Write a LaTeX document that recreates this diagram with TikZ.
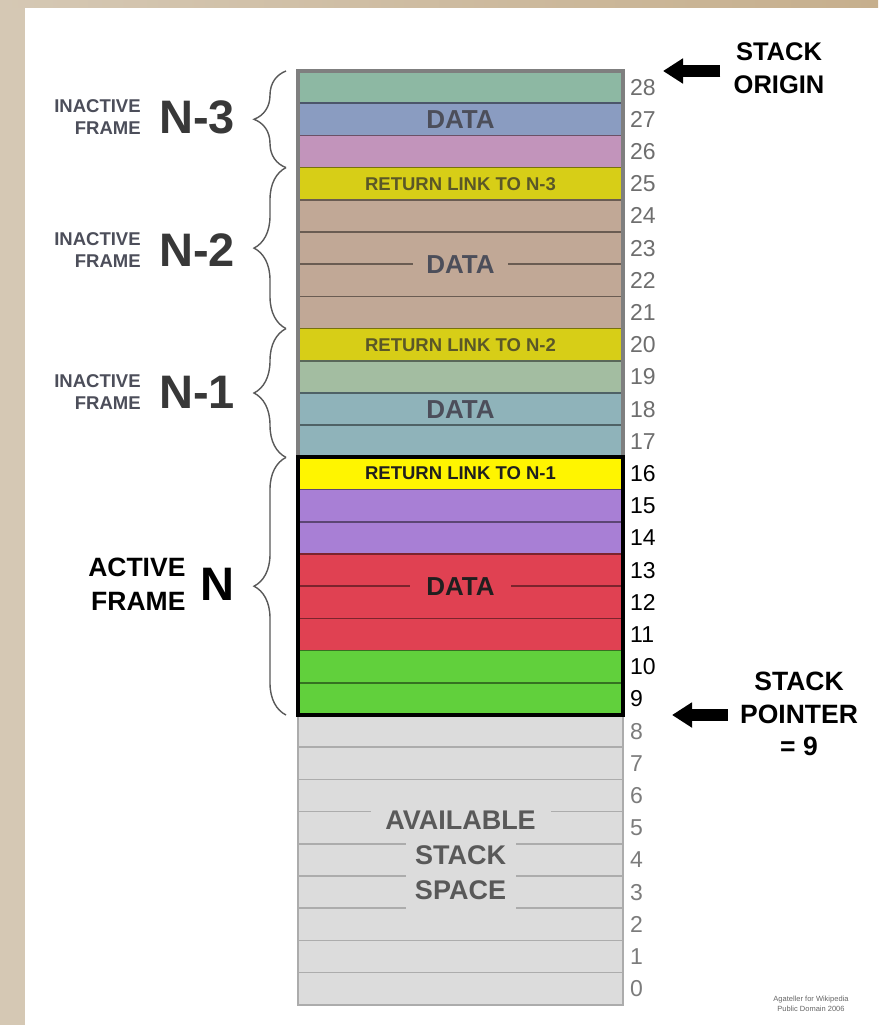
\documentclass[tikz,border=0pt]{standalone}
\usepackage{fontspec}
\setmainfont{Liberation Sans}
\usepackage{tikz}
\usetikzlibrary{arrows.meta, positioning, calc, decorations.pathreplacing}

\definecolor{tanbg}{HTML}{D5C8B4}
\definecolor{tanbgdark}{HTML}{C6AF8D}
\definecolor{rowteal}{HTML}{8DB8A3}
\definecolor{rowblue}{HTML}{8A9CC1}
\definecolor{rowmauve}{HTML}{C294BB}
\definecolor{rowmustard}{HTML}{D7CE17}
\definecolor{rowtan}{HTML}{C1A896}
\definecolor{rowsage}{HTML}{A3BDA1}
\definecolor{rowslate}{HTML}{8FB3BA}
\definecolor{rowyellow}{HTML}{FFF500}
\definecolor{rowpurple}{HTML}{A87FD5}
\definecolor{rowred}{HTML}{E04152}
\definecolor{rowgreen}{HTML}{61D03C}
\definecolor{rowfree}{HTML}{DCDCDC}
\definecolor{inkdim}{HTML}{4C4E5A}
\definecolor{inkolive}{HTML}{5A5728}
\definecolor{inkfree}{HTML}{595959}
\definecolor{numdim}{HTML}{6E6E6E}
\definecolor{numgray}{HTML}{7C7C7C}
\definecolor{framegray}{HTML}{7F7F7F}

\begin{document}
\begin{tikzpicture}[
  x=1pt, y=-1pt,
  %% Stack cells
  cell/.style   ={draw=#1!55!black, fill=#1, line width=1.7pt, minimum width=325pt,
                  minimum height=32.2pt, inner sep=0pt, outer sep=0pt},
  freecell/.style={cell=rowfree, draw=rowfree!78!black},
  %% Address numbers
  numtxt/.style ={inner sep=0pt, font=\fontsize{23}{23}\selectfont},
  numin/.style  ={numtxt, text=numdim},
  numact/.style ={numtxt, text=black},
  numfree/.style={numtxt, text=numgray},
  %% Texts inside the stack
  datatxt/.style ={inner sep=0pt, inner xsep=13pt, minimum height=24pt,
                   font=\fontsize{26}{26}\selectfont\bfseries},
  linktxt/.style ={inner sep=0pt, font=\fontsize{18.5}{18.5}\selectfont\bfseries},
  freetxt/.style ={inner sep=0pt, fill=rowfree, text=inkfree,
                   font=\fontsize{27}{27}\selectfont\bfseries},
  %% Frame labels on the left
  framesm/.style ={inner sep=0pt, align=right, text=inkdim,
                   font=\fontsize{18.5}{22}\selectfont\bfseries},
  framebig/.style={inner sep=0pt, text=black!78,
                   font=\fontsize{47}{47}\selectfont\bfseries},
  brc/.style     ={decorate, decoration={brace, amplitude=32pt}, line width=1.4pt,
                   draw=black!65},
  %% Side notes and arrows
  sidetxt/.style ={inner sep=0pt, align=center, font=\fontsize{25.5}{33}\selectfont\bfseries},
  bigarr/.style  ={line width=12pt, -{Triangle[length=20pt, width=24pt]}},
  credit/.style  ={inner sep=0pt, align=center, text=black!60,
                   font=\fontsize{7.5}{10}\selectfont}
]

\useasboundingbox (0,0) rectangle (878,1025);

%% ── BACKGROUND ──────────────────────────────────────────────
\fill[white] (0,0) rectangle (878,1025);
\fill[tanbg] (0,0) rectangle (25,1025);
\shade[left color=tanbg, right color=tanbgdark] (0,0) rectangle (878,8);

%% ── FRAME N-3 (rows 28..26) ─────────────────────────────────
\node[cell=rowteal, anchor=north west] (c28) at (298,71) {};
\node[cell=rowblue,   below=0pt of c28] (c27) {};
\node[cell=rowmauve,  below=0pt of c27] (c26) {};

%% ── FRAME N-2 (rows 25..21) ─────────────────────────────────
\node[cell=rowmustard, below=0pt of c26] (c25) {};
\node[cell=rowtan,     below=0pt of c25] (c24) {};
\node[cell=rowtan,     below=0pt of c24] (c23) {};
\node[cell=rowtan,     below=0pt of c23] (c22) {};
\node[cell=rowtan,     below=0pt of c22] (c21) {};

%% ── FRAME N-1 (rows 20..17) ─────────────────────────────────
\node[cell=rowmustard, below=0pt of c21] (c20) {};
\node[cell=rowsage,    below=0pt of c20] (c19) {};
\node[cell=rowslate,   below=0pt of c19] (c18) {};
\node[cell=rowslate,   below=0pt of c18] (c17) {};

%% ── ACTIVE FRAME N (rows 16..9) ─────────────────────────────
\node[cell=rowyellow, below=0pt of c17] (c16) {};
\node[cell=rowpurple, below=0pt of c16] (c15) {};
\node[cell=rowpurple, below=0pt of c15] (c14) {};
\node[cell=rowred,    below=0pt of c14] (c13) {};
\node[cell=rowred,    below=0pt of c13] (c12) {};
\node[cell=rowred,    below=0pt of c12] (c11) {};
\node[cell=rowgreen,  below=0pt of c11] (c10) {};
\node[cell=rowgreen,  below=0pt of c10] (c9)  {};

%% ── FREE SPACE (rows 8..0) ──────────────────────────────────
\node[freecell, below=0pt of c9] (c8) {};
\node[freecell, below=0pt of c8] (c7) {};
\node[freecell, below=0pt of c7] (c6) {};
\node[freecell, below=0pt of c6] (c5) {};
\node[freecell, below=0pt of c5] (c4) {};
\node[freecell, below=0pt of c4] (c3) {};
\node[freecell, below=0pt of c3] (c2) {};
\node[freecell, below=0pt of c2] (c1) {};
\node[freecell, below=0pt of c1] (c0) {};

%% outlines of the frames
\draw[framegray, line width=3.5pt] (c28.north west) rectangle (c17.south east);
\draw[black, line width=4pt] (c16.north west) rectangle (c9.south east);

%% ── ADDRESS NUMBERS ─────────────────────────────────────────
\node[numin, right=7pt of c28] (n28) {28};
\node[numin, right=7pt of c27] (n27) {27};
\node[numin, right=7pt of c26] (n26) {26};
\node[numin, right=7pt of c25] (n25) {25};
\node[numin, right=7pt of c24] (n24) {24};
\node[numin, right=7pt of c23] (n23) {23};
\node[numin, right=7pt of c22] (n22) {22};
\node[numin, right=7pt of c21] (n21) {21};
\node[numin, right=7pt of c20] (n20) {20};
\node[numin, right=7pt of c19] (n19) {19};
\node[numin, right=7pt of c18] (n18) {18};
\node[numin, right=7pt of c17] (n17) {17};
\node[numact, right=7pt of c16] (n16) {16};
\node[numact, right=7pt of c15] (n15) {15};
\node[numact, right=7pt of c14] (n14) {14};
\node[numact, right=7pt of c13] (n13) {13};
\node[numact, right=7pt of c12] (n12) {12};
\node[numact, right=7pt of c11] (n11) {11};
\node[numact, right=7pt of c10] (n10) {10};
\node[numact, right=7pt of c9]  (n9)  {9};
\node[numfree, right=7pt of c8] (n8) {8};
\node[numfree, right=7pt of c7] (n7) {7};
\node[numfree, right=7pt of c6] (n6) {6};
\node[numfree, right=7pt of c5] (n5) {5};
\node[numfree, right=7pt of c4] (n4) {4};
\node[numfree, right=7pt of c3] (n3) {3};
\node[numfree, right=7pt of c2] (n2) {2};
\node[numfree, right=7pt of c1] (n1) {1};
\node[numfree, right=7pt of c0] (n0) {0};

%% ── TEXTS IN THE STACK ──────────────────────────────────────
\node[datatxt, text=inkdim] (data3) at (c27) {DATA};
\node[linktxt, text=inkolive] (link3) at (c25) {RETURN LINK TO N-3};
%% filled label breaks the divider between 23 and 22
\node[datatxt, text=inkdim, fill=rowtan] (data2) at (c23.south) {DATA};
\node[linktxt, text=inkolive] (link2) at (c20) {RETURN LINK TO N-2};
\node[datatxt, text=inkdim] (data1) at (c18) {DATA};
\node[linktxt, text=black!88] (link1) at (c16) {RETURN LINK TO N-1};
\node[datatxt, text=black!88, fill=rowred, inner xsep=16pt] (data0) at (c13.south) {DATA};

\node[freetxt, minimum width=180pt, minimum height=36pt] (free1) at ($(c5.north)+(0,8.5)$) {AVAILABLE};
\node[freetxt, minimum width=110pt, minimum height=36pt] (free2) at ($(c4.north)+(0,11)$) {STACK};
\node[freetxt, minimum width=110pt, minimum height=42pt] (free3) at ($(c3.north)+(0,14)$) {SPACE};

%% ── BRACES AND FRAME NAMES ──────────────────────────────────
\draw[brc] ($(c26.south west)+(-12,0)$) -- ($(c28.north west)+(-12,0)$);
\draw[brc] ($(c21.south west)+(-12,0)$) -- ($(c25.north west)+(-12,0)$);
\draw[brc] ($(c17.south west)+(-12,0)$) -- ($(c20.north west)+(-12,0)$);
\draw[brc] ($(c9.south west)+(-12,0)$)  -- ($(c16.north west)+(-12,0)$);

\node[framebig, anchor=east] (name3) at (235,117) {N-3};
\node[framesm, left=18pt of name3] (kind3) {INACTIVE\\FRAME};
\node[framebig, anchor=east] (name2) at (235,250) {N-2};
\node[framesm, left=18pt of name2] (kind2) {INACTIVE\\FRAME};
\node[framebig, anchor=east] (name1) at (235,392) {N-1};
\node[framesm, left=18pt of name1] (kind1) {INACTIVE\\FRAME};
\node[framebig, text=black, anchor=east] (name0) at (235,584) {N};
\node[framesm, text=black, font=\fontsize{26.5}{34}\selectfont\bfseries,
      left=15pt of name0] (kind0) {ACTIVE\\FRAME};

%% ── STACK ORIGIN / STACK POINTER ────────────────────────────
\node[sidetxt] (origin) at (779,68.5) {STACK\\ORIGIN};
\coordinate (origintip) at ($(c28.north east)+(40,0)$);
\draw[bigarr] ([xshift=-13pt]origin.west |- origintip) -- (origintip);

\node[sidetxt, font=\fontsize{26.5}{32.5}\selectfont\bfseries] (sp) at (799,714) {STACK\\POINTER\\= 9};
\coordinate (sptip) at ($(c9.south east)+(49,0)$);
\draw[bigarr] ([xshift=-12pt]sp.west |- sptip) -- (sptip);

\node[credit] (credit) at (811,1004) {Agateller for Wikipedia\\Public Domain 2006};

\end{tikzpicture}
\end{document}
